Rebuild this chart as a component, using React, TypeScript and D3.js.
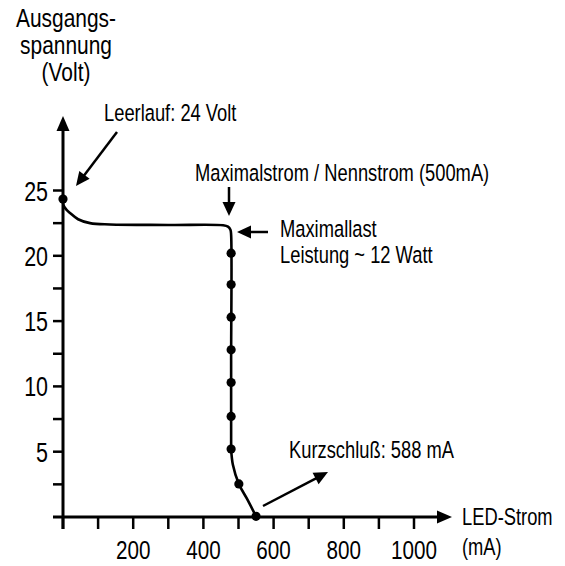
import * as d3 from 'd3'

// LED-Strom (mA) / Ausgangsspannung (V) along the curve
const curveCurrent = [0, 1, 9, 20, 43, 77, 134, 300, 456, 470, 477, 479, 479, 479, 479, 484, 501, 524, 550]
const curveVoltage = [24.35, 23.9, 23.55, 23.28, 22.8, 22.5, 22.4, 22.36, 22.34, 22.24, 22.0, 21.6, 12.0, 5.2, 5.2, 4.0, 2.53, 1.4, 0.05]

// measured points (dots)
const dotCurrent = [0, 479, 479, 479, 479, 479, 479, 479, 501, 550]
const dotVoltage = [24.35, 20.2, 17.8, 15.3, 12.8, 10.3, 7.7, 5.2, 2.53, 0.05]

const xTickLabels = [200, 400, 600, 800, 1000]
const yTickLabels = [5, 10, 15, 20, 25]
const titleLines = ['Ausgangs-', 'spannung', '(Volt)']

const W = 565
const H = 566
const font = "'Liberation Sans', Arial, sans-serif"

const x = d3.scaleLinear().domain([0, 1000]).range([63, 414])
const y = d3.scaleLinear().domain([0, 25]).range([517, 190.5])

// condensed text: Liberation Sans squeezed horizontally
function Txt({ x, y, size = 23.5, sx = 0.78, anchor = 'start', children }: any) {
  return (
    <text
      transform={`translate(${x},${y}) scale(${sx},1)`}
      fontSize={size}
      textAnchor={anchor}
    >
      {children}
    </text>
  )
}

function Arrow({ x1, y1, x2, y2, w = 2.5, len = 14, half = 6.5 }: any) {
  const a = Math.atan2(y2 - y1, x2 - x1)
  const bx = x2 - len * Math.cos(a)
  const by = y2 - len * Math.sin(a)
  const px = -Math.sin(a) * half
  const py = Math.cos(a) * half
  return (
    <g>
      <line x1={x1} y1={y1} x2={bx + Math.cos(a)} y2={by + Math.sin(a)} stroke="#000" strokeWidth={w} />
      <path d={`M${x2},${y2}L${bx + px},${by + py}L${bx - px},${by - py}Z`} fill="#000" />
    </g>
  )
}

export default function App() {
  const pts = curveCurrent.map((c, i) => [x(c), y(curveVoltage[i])] as [number, number])
  const line = d3.line().curve(d3.curveCatmullRom.alpha(0.5))
  const xMinor = d3.range(0, 1001, 100)
  const yMinor = d3.range(2.5, 25.1, 2.5)

  return (
    <div style={{ position: 'absolute', left: 0, top: 0 }}>
      <svg width={W} height={H} style={{ display: 'block', background: '#fff' }} fontFamily={font}>
        {/* title */}
        {titleLines.map((t, i) => (
          <Txt key={t} x={66} y={27 + i * 27} size={26.5} sx={0.79} anchor="middle">{t}</Txt>
        ))}

        {/* axes */}
        <line x1={x(0)} y1={529} x2={x(0)} y2={128} stroke="#000" strokeWidth={3} />
        <path d={`M${x(0)},116L${x(0) - 6.5},131L${x(0) + 6.5},131Z`} fill="#000" />
        <line x1={53} y1={y(0)} x2={440} y2={y(0)} stroke="#000" strokeWidth={3} />
        <path d={`M452,${y(0)}L437,${y(0) - 6.5}L437,${y(0) + 6.5}Z`} fill="#000" />

        {xMinor.map(v => (
          <line key={'xt' + v} x1={x(v)} x2={x(v)} y1={y(0)} y2={y(0) + 12} stroke="#000" strokeWidth={2.5} />
        ))}
        {yMinor.map(v => (
          <line key={'yt' + v} x1={x(0) - 10} x2={x(0)} y1={y(v)} y2={y(v)} stroke="#000" strokeWidth={2.5} />
        ))}
        {xTickLabels.map(v => (
          <Txt key={'xl' + v} x={x(v)} y={559} size={26.5} anchor="middle">{v}</Txt>
        ))}
        {yTickLabels.map(v => (
          <Txt key={'yl' + v} x={48} y={y(v) + 10} size={27.5} anchor="end">{v}</Txt>
        ))}

        <Txt x={462} y={525}>LED-Strom</Txt>
        <Txt x={462} y={555}>(mA)</Txt>

        {/* curve */}
        <path d={line(pts) || ''} fill="none" stroke="#000" strokeWidth={2.6} />
        {dotCurrent.map((c, i) => (
          <circle key={'d' + i} cx={x(c)} cy={y(dotVoltage[i])} r={4.6} fill="#000" />
        ))}

        {/* annotations */}
        <Txt x={104} y={121}>Leerlauf: 24 Volt</Txt>
        <Arrow x1={117} y1={132} x2={76} y2={186} />

        <Txt x={195} y={181}>Maximalstrom / Nennstrom (500mA)</Txt>
        <Arrow x1={229} y1={187} x2={229} y2={216} />

        <Txt x={280} y={237}>Maximallast</Txt>
        <Txt x={280} y={263}>Leistung ~ 12 Watt</Txt>
        <Arrow x1={268} y1={232} x2={237} y2={232} />

        <Txt x={289} y={458}>Kurzschluß: 588 mA</Txt>
        <Arrow x1={263} y1={506} x2={328} y2={472} />
      </svg>
    </div>
  )
}
